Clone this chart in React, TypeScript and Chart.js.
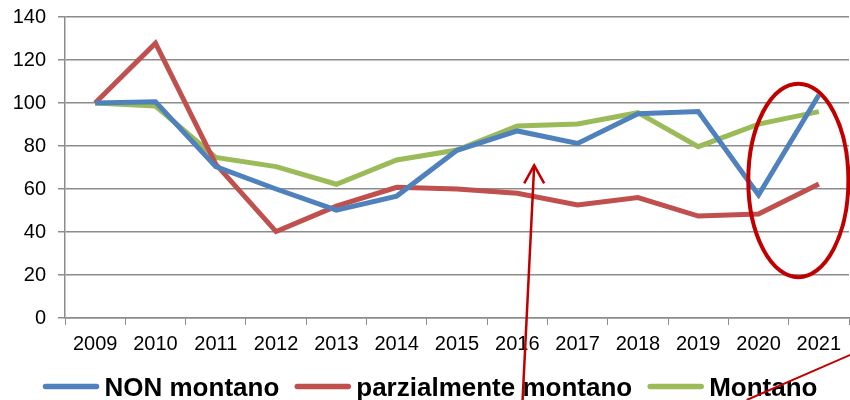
import React, { useEffect, useRef } from "react";
import { Chart, registerables } from "chart.js";

Chart.register(...registerables);

const years = ["2009", "2010", "2011", "2012", "2013", "2014", "2015", "2016", "2017", "2018", "2019", "2020", "2021"];
const nonMontano = [100, 100.6, 70.4, 60, 50.2, 56.7, 78, 87, 81.2, 95, 96, 57.2, 103.7];
const parzialmenteMontano = [100, 127.8, 71.6, 40.2, 52, 60.8, 60, 58, 52.6, 56, 47.4, 48.4, 62.3];
const montano = [100, 98.6, 74.7, 70.4, 62.2, 73.5, 78.1, 89.3, 90.2, 95.5, 79.7, 90.2, 96];

const BLUE = "#4F81BD";
const RED = "#C0504D";
const GREEN = "#9BBB59";
const ANNOT = "#C00000";
const GRID = "#8C8C8C";
const FONT = "'Liberation Sans', Arial, sans-serif";

const legendAndAnnotations = {
  id: "legendAndAnnotations",
  afterDraw(chart: any) {
    const ctx = chart.ctx;
    const x = chart.scales.x;
    const y = chart.scales.y;
    ctx.save();

    // legend (bottom)
    ctx.font = `bold 26px ${FONT}`;
    ctx.textBaseline = "alphabetic";
    ctx.textAlign = "left";
    const lineW = 55;
    const gap = 6;
    const itemGap = 16;
    const items = chart.data.datasets.map((d: any) => ({ label: d.label, color: d.borderColor, w: ctx.measureText(d.label).width }));
    const total = items.reduce((s: number, it: any) => s + lineW + gap + it.w, 0) + itemGap * (items.length - 1);
    let lx = (43 + 818) / 2 - total / 2;
    const ly = 386.5;
    for (const it of items) {
      ctx.strokeStyle = it.color;
      ctx.lineWidth = 5.5;
      ctx.lineCap = "round";
      ctx.beginPath();
      ctx.moveTo(lx + 2, ly);
      ctx.lineTo(lx + lineW - 2, ly);
      ctx.stroke();
      ctx.fillStyle = "#000";
      ctx.fillText(it.label, lx + lineW + gap, 396);
      lx += lineW + gap + it.w + itemGap;
    }
    ctx.lineCap = "butt";

    // annotations
    ctx.strokeStyle = ANNOT;
    const cx = x.getPixelForValue(11.66);
    const cy = y.getPixelForValue(64);
    const rx = (x.getPixelForValue(1) - x.getPixelForValue(0)) * 0.83;
    const ry = y.getPixelForValue(0) - y.getPixelForValue(45);
    ctx.lineWidth = 4;
    ctx.beginPath();
    ctx.ellipse(cx, cy, rx, ry, 0, 0, Math.PI * 2);
    ctx.stroke();
    const tx = x.getPixelForValue(7.28);
    const ty = y.getPixelForValue(71);
    ctx.lineWidth = 2.5;
    ctx.beginPath();
    ctx.moveTo(tx, ty);
    ctx.lineTo(tx - 11.6, chart.height);
    ctx.stroke();
    ctx.beginPath();
    ctx.moveTo(tx - 10, ty + 18);
    ctx.lineTo(tx, ty);
    ctx.lineTo(tx + 10, ty + 18);
    ctx.stroke();
    ctx.lineWidth = 2;
    ctx.beginPath();
    ctx.moveTo(746.7, chart.height);
    ctx.lineTo(746.7 + 103.3 * 1.2, chart.height - 45 * 1.2);
    ctx.stroke();
    ctx.restore();
  },
};

export default function App() {
  const ref = useRef<HTMLCanvasElement>(null);
  useEffect(() => {
    document.body.style.margin = "0";
    const mk = (label: string, data: number[], color: string) => ({
      label,
      data,
      borderColor: color,
      backgroundColor: color,
      borderWidth: 5,
      pointRadius: 0,
      tension: 0,
      fill: false,
    });
    const chart = new Chart(ref.current!, {
      type: "line",
      data: {
        labels: years,
        datasets: [
          mk("NON montano", nonMontano, BLUE),
          mk("parzialmente montano", parzialmenteMontano, RED),
          mk("Montano", montano, GREEN),
        ],
      },
      options: {
        animation: false,
        responsive: false,
        layout: { padding: { top: 0, right: 1, left: 0, bottom: 0 } },
        plugins: {
          tooltip: { enabled: false },
          legend: { display: false },
        },
        scales: {
          x: {
            offset: true,
            afterFit: (s: any) => { s.height = 82; },
            grid: { display: true, drawOnChartArea: false, drawTicks: true, tickLength: 7, color: GRID, offset: true },
            border: { display: true, color: GRID, width: 1.5 },
            ticks: { color: "#000", padding: 7, maxRotation: 0, font: { family: FONT, size: 20 } },
          },
          y: {
            min: 0,
            max: 140,
            afterFit: (s: any) => { s.width = 65; },
            ticks: { stepSize: 20, color: "#000", padding: 12, font: { family: FONT, size: 20, lineHeight: 0.5 } },
            grid: { color: GRID, lineWidth: 1.5, tickLength: 7 },
            border: { display: true, color: GRID, width: 1.5 },
          },
        },
      },
      plugins: [legendAndAnnotations],
    });
    return () => chart.destroy();
  }, []);
  return (
    <div style={{ position: "absolute", left: 0, top: 0, width: 850, height: 400 }}>
      <canvas ref={ref} width={850} height={400} />
    </div>
  );
}
